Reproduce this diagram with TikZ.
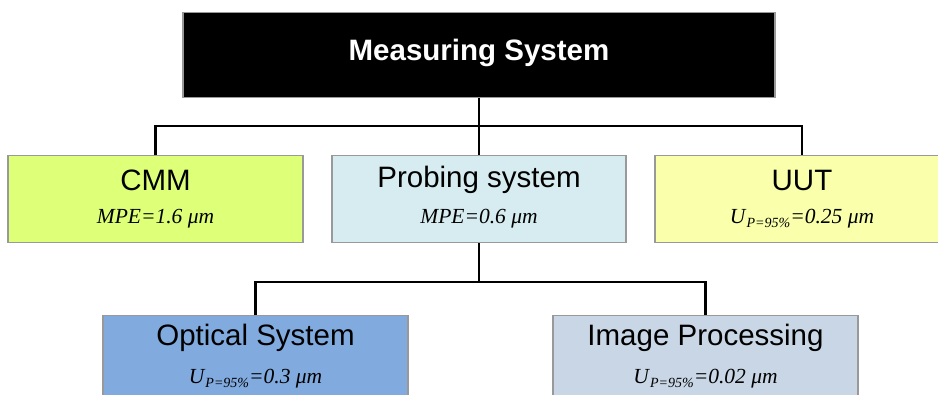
\documentclass[tikz,border=0pt]{standalone}
\usepackage{fontspec}
\setmainfont{Liberation Sans}
\newfontfamily\valfont{Liberation Serif}
\newlength{\du}
\setlength{\du}{1pt}
\newcommand{\upct}[1]{\textit{U}\raisebox{-0.35ex}{\fontsize{14}{14}\selectfont\textit{P=95\%}}\textit{=#1 μm}}

\tikzset{
  box/.style={draw=boxline, line width=1.4\du, minimum height=87\du, inner sep=0pt, anchor=north},
  boxname/.style={font=\fontsize{29.5}{31}\selectfont},
  boxvalue/.style={font=\valfont\fontsize{21.5}{23}\selectfont},
  link/.style={line width=2.5\du, draw=black},
}

\begin{document}
\begin{tikzpicture}[x=1\du,y=-1\du]
\definecolor{boxline}{rgb}{0.600000, 0.600000, 0.600000}
\definecolor{cmmfill}{rgb}{0.870000, 1.000000, 0.470000}
\definecolor{probefill}{rgb}{0.840000, 0.925000, 0.940000}
\definecolor{uutfill}{rgb}{0.975000, 1.000000, 0.665000}
\definecolor{opticfill}{rgb}{0.505000, 0.665000, 0.870000}
\definecolor{imagefill}{rgb}{0.785000, 0.840000, 0.900000}
\clip (0,0) rectangle (938,394);
\fill[white] (0,0) rectangle (938,394);
\coordinate (topbus) at (0,126);
\coordinate (lowbus) at (0,282);
% boxes
\node[box, fill=black, minimum width=592\du, minimum height=85\du] (ms) at (479,12) {};
\node[box, fill=cmmfill, minimum width=295\du] (cmm) at (155.5,155) {};
\node[box, fill=probefill, minimum width=294\du] (probe) at (479,155) {};
\node[box, fill=uutfill, minimum width=294\du] (uut) at (802,155) {};
\node[box, fill=opticfill, minimum width=305\du] (optic) at (255.5,315) {};
\node[box, fill=imagefill, minimum width=305\du] (image) at (705.5,315) {};
% connectors
\draw[link] (ms.south) -- (probe.north);
\draw[link] (cmm.north) |- (topbus -| ms.south) -| (uut.north);
\draw[link] (probe.south) -- (lowbus -| probe.south);
\draw[link] (optic.north) |- (lowbus -| probe.south) -| (image.north);
% texts
\node[text=white, font=\bfseries\fontsize{29.5}{31}\selectfont] (msname) at (479,53) {Measuring System};
\node[boxname] (cmmname) at (155.5,180) {CMM};
\node[boxvalue] (cmmvalue) at (155.5,219) {\textit{MPE=1.6 μm}};
\node[boxname] (probename) at (479,180) {Probing system};
\node[boxvalue] (probevalue) at (479,219) {\textit{MPE=0.6 μm}};
\node[boxname] (uutname) at (802,180) {UUT};
\node[boxvalue] (uutvalue) at (802,219) {\upct{0.25}};
\node[boxname] (opticname) at (255.5,338) {Optical System};
\node[boxvalue] (opticvalue) at (255.5,379) {\upct{0.3}};
\node[boxname] (imagename) at (705.5,338) {Image Processing};
\node[boxvalue] (imagevalue) at (705.5,379) {\upct{0.02}};
\end{tikzpicture}
\end{document}
